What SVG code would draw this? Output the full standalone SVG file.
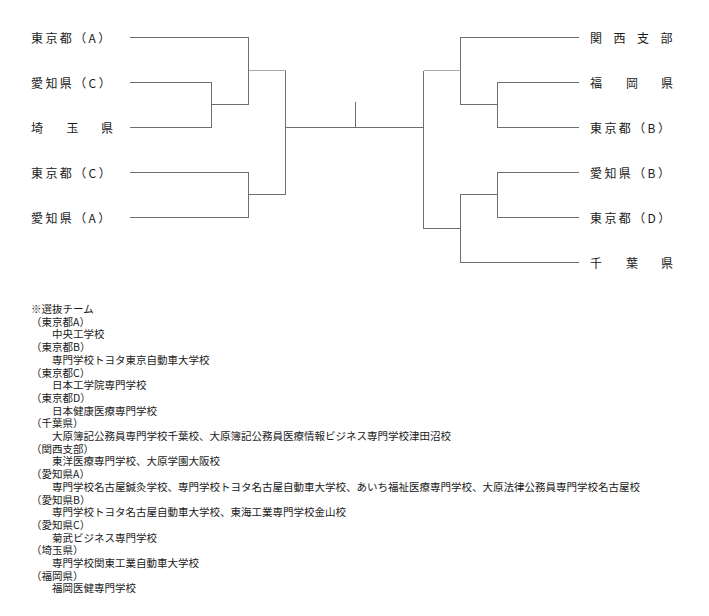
<svg xmlns="http://www.w3.org/2000/svg" width="709" height="616" viewBox="0 0 709 616">
<style>
.bg{fill:#ffffff}
.ln{fill:none;stroke:#6e6e6e;stroke-width:1;shape-rendering:crispEdges}
.lt{fill:none;stroke:#a8a8a8;stroke-width:1;shape-rendering:crispEdges}
.lbl{font-family:"Noto Sans CJK JP","Noto Sans",sans-serif;font-size:12px;letter-spacing:2.4px;fill:#1a1a1a}
.nt{font-family:"Noto Sans CJK JP","Noto Sans",sans-serif;font-size:10.5px;fill:#1a1a1a}
</style>
<rect class="bg" x="0" y="0" width="709" height="616"/>
<g id="connectors">
<path class="ln" d="M130,37.5 H248.5 V104.5"/>
<path class="ln" d="M130,82.5 H211.5 V127.5 H130"/>
<path class="ln" d="M211.5,104.5 H248.5"/>
<path class="lt" d="M248.5,70.5 H285.5"/>
<path class="ln" d="M130,172.5 H248.5 V217.5 H130"/>
<path class="ln" d="M248.5,194.5 H285.5"/>
<path class="ln" d="M285.5,70.5 V194.5"/>
<path class="ln" d="M285.5,127.5 H423.5"/>
<path class="ln" d="M355.5,101.5 V127.5"/>
<path class="ln" d="M579,37.5 H460.5 V104.5 H497.5"/>
<path class="ln" d="M579,82.5 H497.5 V127.5 H579"/>
<path class="lt" d="M423.5,70.5 H460.5"/>
<path class="ln" d="M423.5,70.5 V228.5 H460.5"/>
<path class="ln" d="M579,172.5 H497.5 V217.5 H579"/>
<path class="ln" d="M497.5,194.5 H460.5 V262.5 H579"/>
</g>
<g id="node-tokyo-a"><text class="lbl" x="31" y="43">東京都（A）</text></g>
<g id="node-aichi-c"><text class="lbl" x="31" y="88">愛知県（C）</text></g>
<g id="node-saitama"><text class="lbl" x="31 66.5 101" y="133">埼玉県</text></g>
<g id="node-tokyo-c"><text class="lbl" x="31" y="178">東京都（C）</text></g>
<g id="node-aichi-a"><text class="lbl" x="31" y="223">愛知県（A）</text></g>
<g id="node-kansai"><text class="lbl" x="590 613.5 637 660.5" y="43">関西支部</text></g>
<g id="node-fukuoka"><text class="lbl" x="590 626 661" y="88">福岡県</text></g>
<g id="node-tokyo-b"><text class="lbl" x="590" y="133">東京都（B）</text></g>
<g id="node-aichi-b"><text class="lbl" x="590" y="178">愛知県（B）</text></g>
<g id="node-tokyo-d"><text class="lbl" x="590" y="223">東京都（D）</text></g>
<g id="node-chiba"><text class="lbl" x="590 626 661" y="268">千葉県</text></g>
<g id="notes">
<text class="nt" x="31" y="313">※選抜チーム</text>
<text class="nt" x="31" y="325.7">（東京都A）</text>
<text class="nt" x="52" y="338.4">中央工学校</text>
<text class="nt" x="31" y="351.1">（東京都B）</text>
<text class="nt" x="52" y="363.8">専門学校トヨタ東京自動車大学校</text>
<text class="nt" x="31" y="376.5">（東京都C）</text>
<text class="nt" x="52" y="389.2">日本工学院専門学校</text>
<text class="nt" x="31" y="401.9">（東京都D）</text>
<text class="nt" x="52" y="414.6">日本健康医療専門学校</text>
<text class="nt" x="31" y="427.3">（千葉県）</text>
<text class="nt" x="52" y="440">大原簿記公務員専門学校千葉校、大原簿記公務員医療情報ビジネス専門学校津田沼校</text>
<text class="nt" x="31" y="452.7">（関西支部）</text>
<text class="nt" x="52" y="465.4">東洋医療専門学校、大原学園大阪校</text>
<text class="nt" x="31" y="478.1">（愛知県A）</text>
<text class="nt" x="52" y="490.8">専門学校名古屋鍼灸学校、専門学校トヨタ名古屋自動車大学校、あいち福祉医療専門学校、大原法律公務員専門学校名古屋校</text>
<text class="nt" x="31" y="503.5">（愛知県B）</text>
<text class="nt" x="52" y="516.2">専門学校トヨタ名古屋自動車大学校、東海工業専門学校金山校</text>
<text class="nt" x="31" y="528.9">（愛知県C）</text>
<text class="nt" x="52" y="541.6">菊武ビジネス専門学校</text>
<text class="nt" x="31" y="554.3">（埼玉県）</text>
<text class="nt" x="52" y="567">専門学校関東工業自動車大学校</text>
<text class="nt" x="31" y="579.7">（福岡県）</text>
<text class="nt" x="52" y="592.4">福岡医健専門学校</text>
</g>
</svg>
